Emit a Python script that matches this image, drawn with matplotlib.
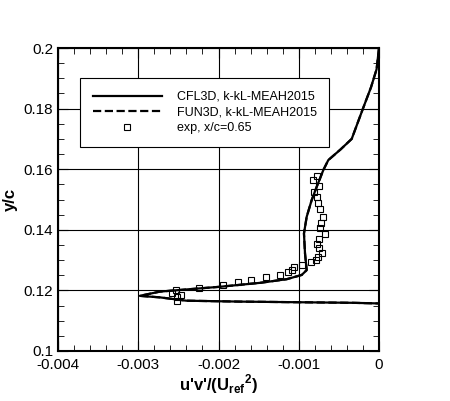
import numpy as np
import matplotlib
matplotlib.use('Agg')
import matplotlib.pyplot as plt
from matplotlib.ticker import MultipleLocator, FuncFormatter

plt.rcParams['font.family'] = ['Liberation Sans', 'DejaVu Sans']

# CFL3D k-kL-MEAH2015
cfl_x = [0, -0.00003, -0.0001, -0.0002, -0.00034, -0.00048, -0.000632, -0.000694, -0.000776,
         -0.000839, -0.000901, -0.000935, -0.000922, -0.000901, -0.000963, -0.00115,
         -0.00148, -0.00198, -0.00236, -0.00273, -0.00298, -0.00273, -0.0024, -0.00173,
         -0.00032, -0.00001]
cfl_y = [0.2, 0.193, 0.187, 0.18, 0.17, 0.1665, 0.1630, 0.1597, 0.1542, 0.1498, 0.1443,
         0.1388, 0.1322, 0.1267, 0.1251, 0.1237, 0.1225, 0.1212, 0.1204, 0.1196, 0.1182,
         0.1177, 0.1166, 0.1163, 0.1159, 0.1157]
# FUN3D k-kL-MEAH2015 (overlays CFL3D)
fun_x = cfl_x
fun_y = cfl_y

# experiment, x/c=0.65
exp_x = [-0.000776, -0.000818, -0.000744, -0.000806, -0.000776, -0.00076, -0.000735,
         -0.000702, -0.000719, -0.000735, -0.000677, -0.000744, -0.000769, -0.000751,
         -0.000714, -0.00076, -0.000785, -0.000851, -0.000956, -0.001055, -0.001088,
         -0.00113, -0.001234, -0.001408, -0.001595, -0.001753, -0.00194, -0.002239,
         -0.00253, -0.002463, -0.002513, -0.002513, -0.00258]
exp_y = [0.1578, 0.1564, 0.1545, 0.1526, 0.1507, 0.1487, 0.1468, 0.1443, 0.1424, 0.1405,
         0.1386, 0.1369, 0.1353, 0.1339, 0.1322, 0.1309, 0.1300, 0.1294, 0.1283, 0.1276,
         0.1267, 0.1260, 0.1250, 0.1243, 0.1234, 0.1227, 0.1217, 0.1208, 0.1201, 0.1185,
         0.1179, 0.1166, 0.1190]

fig = plt.figure(figsize=(4.5, 4.01), dpi=100)
ax = fig.add_axes([58/450, 50/401, 321/450, 303/401])

ax.plot(cfl_x, cfl_y, 'k-', lw=1.6, label='CFL3D, k-kL-MEAH2015')
ax.plot(fun_x, fun_y, 'k--', lw=1.6, label='FUN3D, k-kL-MEAH2015')
ax.plot(exp_x, exp_y, 's', ms=4.5, mfc='none', mec='k', mew=0.8, ls='none',
        label="exp, x/c=0.65")

ax.set_xlim(-0.004, 0)
ax.set_ylim(0.1, 0.2)
ax.xaxis.set_major_locator(MultipleLocator(0.001))
ax.xaxis.set_minor_locator(MultipleLocator(0.0002))
ax.yaxis.set_major_locator(MultipleLocator(0.02))
ax.yaxis.set_minor_locator(MultipleLocator(0.005))
ax.xaxis.set_major_formatter(FuncFormatter(lambda v, p: '0' if abs(v) < 1e-12 else f'{v:g}'))
ax.yaxis.set_major_formatter(FuncFormatter(lambda v, p: f'{v:g}'))
ax.tick_params(which='both', direction='in', top=True, right=True, labelsize=11)
ax.tick_params(axis='x', which='major', pad=5)
ax.tick_params(which='major', length=7)
ax.tick_params(which='minor', length=4)
ax.grid(True, which='major', color='k', lw=0.8)
for s in ax.spines.values():
    s.set_linewidth(1.5)

ax.set_xlabel(r"u'v'/(U$_{\mathregular{ref}}$$^{\mathregular{2}}$)", fontsize=12, fontweight='bold', labelpad=0)
ax.set_ylabel('y/c', fontsize=12, fontweight='bold', labelpad=4)

leg = ax.legend(loc='upper left', bbox_to_anchor=(0.05, 0.92), fontsize=9, frameon=True,
                fancybox=False, edgecolor='k', framealpha=1, handlelength=5.5,
                borderpad=1.0, labelspacing=0.3, handletextpad=1.2)
leg.get_frame().set_linewidth(0.8)

fig.savefig('out.png', dpi=100)
